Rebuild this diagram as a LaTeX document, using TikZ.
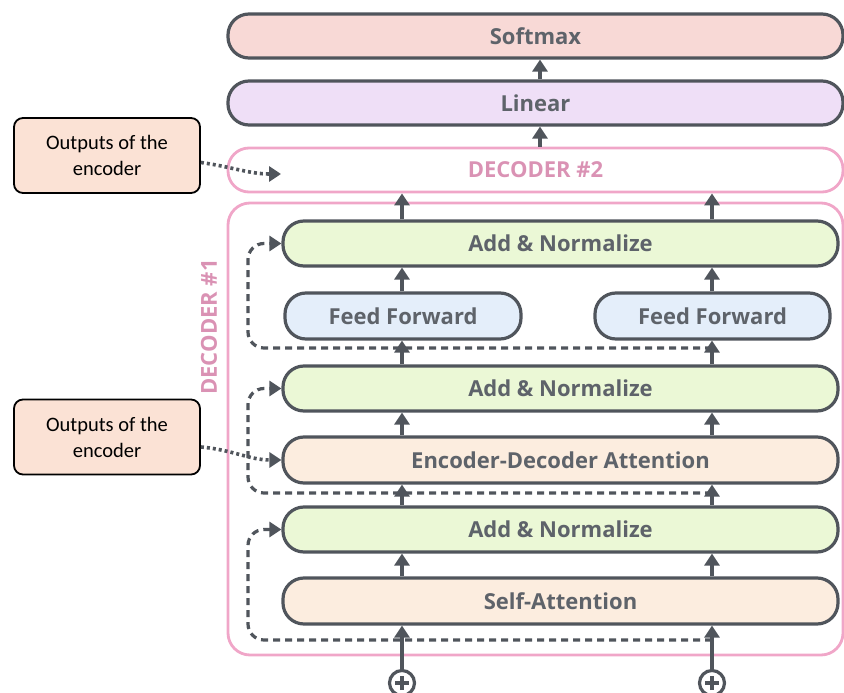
\documentclass[tikz,border=0pt]{standalone}
\usepackage{fontspec}
\setmainfont{Open Sans}
\newfontfamily\calib{Carlito}
\usetikzlibrary{arrows.meta}
\definecolor{strk}{HTML}{50555C}
\definecolor{txt}{HTML}{5E636A}
\definecolor{pinkln}{HTML}{F0A6C8}
\definecolor{pinktx}{HTML}{DA92B4}
\definecolor{fsoft}{HTML}{F8D9D6}
\definecolor{flin}{HTML}{EFDFF7}
\definecolor{fgreen}{HTML}{EBF8D6}
\definecolor{fblue}{HTML}{E4EEFA}
\definecolor{fpeach}{HTML}{FCEDDF}
\definecolor{fenc}{HTML}{FBE2D5}
\tikzset{
  pill/.style={draw=strk, line width=3.2pt, rounded corners=21pt, inner sep=0pt, text=txt, font=\fontsize{22}{24}\selectfont\bfseries},
  pinkbox/.style={draw=pinkln, line width=2.8pt, inner sep=0pt, text=pinktx, font=\fontsize{22}{24}\selectfont\bfseries},
  encbox/.style={draw=black, line width=1.8pt, rounded corners=9pt, fill=fenc, align=center, font=\calib\fontsize{20.5}{26}\selectfont, minimum width=186pt, minimum height=75pt},
  arr/.style={draw=strk, line width=3.2pt, -{Triangle[width=15pt,length=12pt]}},
  res/.style={draw=strk, line width=3.2pt, dash pattern=on 7pt off 5pt, rounded corners=16pt, -{Triangle[width=15pt,length=12pt]}},
  dotarr/.style={draw=strk, line width=3.6pt, dash pattern=on 3pt off 3pt, -{Triangle[width=15pt,length=12pt]}},
  plus/.style={draw=strk, line width=3.2pt, circle, minimum size=25pt, inner sep=0pt}
}
\begin{document}
\begin{tikzpicture}[x=1pt,y=-1pt]
\useasboundingbox (0,0) rectangle (844,693);
% decoder #1 frame
\node[pinkbox, rounded corners=22pt, minimum width=615pt, minimum height=452pt] (d1) at (535.5,429) {};
\node[rotate=90, text=pinktx, font=\fontsize{22}{24}\selectfont\bfseries] (d1lab) at (209,327) {DECODER \#1};
% top stack
\node[pill, fill=fsoft, minimum width=615pt, minimum height=44pt] (sm) at (535.5,36) {Softmax};
\node[pill, fill=flin, minimum width=615pt, minimum height=44pt] (lin) at (535.5,103) {Linear};
\node[pinkbox, rounded corners=21pt, minimum width=615pt, minimum height=44pt] (d2) at (535.5,170) {DECODER \#2};
% decoder #1 content
\node[pill, fill=fgreen, minimum width=555pt, minimum height=45pt] (an1) at (560.5,243.5) {Add \& Normalize};
\node[pill, fill=fblue, minimum width=236pt, minimum height=46pt] (ff1) at (403,316) {Feed Forward};
\node[pill, fill=fblue, minimum width=235pt, minimum height=46pt] (ff2) at (712.5,316) {Feed Forward};
\node[pill, fill=fgreen, minimum width=555pt, minimum height=45pt] (an2) at (560.5,388.5) {Add \& Normalize};
\node[pill, fill=fpeach, minimum width=555pt, minimum height=46pt] (eda) at (560.5,460) {Encoder-Decoder Attention};
\node[pill, fill=fgreen, minimum width=555pt, minimum height=45pt] (an3) at (560.5,529.5) {Add \& Normalize};
\node[pill, fill=fpeach, minimum width=555pt, minimum height=46pt] (sa) at (560.5,601) {Self-Attention};
% plus circles
\node[plus] (p1) at (402,683) {};
\node[plus] (p2) at (712,683) {};
\foreach \p in {p1,p2}{
  \draw[strk, line width=3.2pt] ([xshift=-7pt]\p.center) -- ([xshift=7pt]\p.center);
  \draw[strk, line width=3.2pt] ([yshift=-7pt]\p.center) -- ([yshift=7pt]\p.center);
}
% encoder boxes
\node[encbox] (enc1) at (107,155.5) {Outputs of the\\encoder};
\node[encbox] (enc2) at (107,437) {Outputs of the\\encoder};
% residual coordinates
\coordinate (r1) at (712,640);
\coordinate (r2) at (712,493);
\coordinate (r3) at (712,348);
\coordinate (t1) at (281,174);
% residual dashed paths
\draw[res] (r1) -- (248,640) -- (248,529.5) -- (an3.west);
\draw[res] (r2) -- (248,493) -- (248,388.5) -- (an2.west);
\draw[res] (r3) -- (248,348) -- (248,243.5) -- (an1.west);
% vertical arrows
\foreach \p in {p1,p2}{
  \draw[arr] (\p.north) -- (sa.south -| \p);
  \draw[arr] (sa.north -| \p) -- (an3.south -| \p);
  \draw[arr] (an3.north -| \p) -- (eda.south -| \p);
  \draw[arr] (eda.north -| \p) -- (an2.south -| \p);
  \draw[arr] (an1.north -| \p) -- (d2.south -| \p);
}
\draw[arr] (an2.north -| p1) -- (ff1.south -| p1);
\draw[arr] (ff1.north -| p1) -- (an1.south -| p1);
\draw[arr] (an2.north -| p2) -- (ff2.south -| p2);
\draw[arr] (ff2.north -| p2) -- (an1.south -| p2);
\draw[arr] (d2.north -| 540,0) -- (lin.south -| 540,0);
\draw[arr] (lin.north -| 540,0) -- (sm.south -| 540,0);
% encoder dotted arrows
\draw[dotarr] ([yshift=-7pt]enc1.east) to[out=-8,in=180] (t1);
\draw[dotarr] ([yshift=-10pt]enc2.east) to[out=-5,in=180] (eda.west);
\end{tikzpicture}
\end{document}
